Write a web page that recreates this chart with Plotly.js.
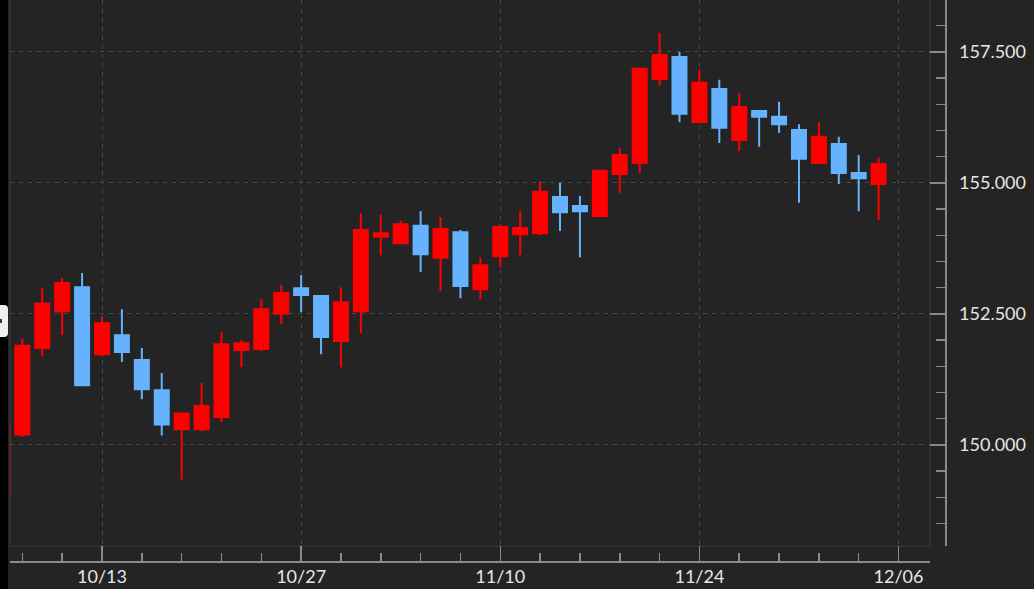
<!DOCTYPE html>
<html>
<head>
<meta charset="utf-8">
<script src="https://cdn.plot.ly/plotly-3.0.1.min.js"></script>
<style>
  html, body { margin:0; padding:0; background:#242424; overflow:hidden; }
  #chart { position:absolute; left:0; top:0; width:1034px; height:589px; }
  #strip { position:absolute; left:0; top:0; width:8px; height:589px; background:#000; z-index:5; }
  #tab { position:absolute; left:0; top:305px; width:8px; height:32px; background:#eeeeee; border-radius:0 4px 4px 0; z-index:6; }
  #tabdot { position:absolute; left:0; top:14px; width:2px; height:4px; background:#333; }
</style>
</head>
<body>
<div id="chart"></div>
<div id="strip"></div>
<div id="tab"><div id="tabdot"></div></div>
<script>
// Trading days (USD/JPY daily candles)
const dates = ['10/6','10/7','10/8','10/9','10/10',
  '10/13','10/14','10/15','10/16','10/17',
  '10/20','10/21','10/22','10/23','10/24',
  '10/27','10/28','10/29','10/30','10/31',
  '11/3','11/4','11/5','11/6','11/7',
  '11/10','11/11','11/12','11/13','11/14',
  '11/17','11/18','11/19','11/20','11/21',
  '11/24','11/25','11/26','11/27','11/28',
  '12/1','12/2','12/3','12/4','12/5'];

const openVals = [149.04,150.20,151.85,152.55,153.01,
  151.73,152.09,151.62,151.04,150.30,
  150.30,150.53,151.81,151.83,152.50,
  152.99,152.84,151.98,152.55,153.97,
  153.85,154.18,153.57,154.06,152.97,
  153.60,154.02,154.04,154.73,154.56,
  154.37,155.17,155.38,156.98,157.40,
  156.16,156.79,155.82,156.37,156.26,
  156.01,155.38,155.74,155.19,154.98];

const highVals = [150.47,152.02,152.99,153.18,153.28,
  152.44,152.59,151.85,151.37,150.62,
  151.18,152.15,152.00,152.78,153.05,
  153.24,152.86,153.01,154.42,154.39,
  154.27,154.46,154.35,154.10,153.58,
  154.21,154.46,155.02,155.00,154.75,
  155.25,155.67,157.20,157.86,157.50,
  157.16,156.97,156.72,156.39,156.55,
  156.12,156.16,155.88,155.53,155.48];

const lowVals = [148.90,150.15,151.69,152.09,151.12,
  151.69,151.58,150.87,150.18,149.34,
  150.26,150.43,151.48,151.79,152.30,
  152.53,151.73,151.48,152.13,153.62,
  153.83,153.30,152.93,152.80,152.78,
  153.39,153.62,154.00,154.08,153.58,
  154.35,154.81,155.19,156.85,156.16,
  156.14,155.76,155.61,155.69,155.95,
  154.62,155.36,154.98,154.46,154.29];

const closeVals = [150.37,151.89,152.70,153.09,151.14,
  152.32,151.77,151.06,150.39,150.60,
  150.74,151.92,151.94,152.59,152.90,
  152.86,152.06,152.72,154.10,154.04,
  154.21,153.64,154.12,153.03,153.43,
  154.16,154.14,154.83,154.44,154.46,
  155.23,155.53,157.18,157.44,156.32,
  156.91,156.05,156.45,156.26,156.12,
  155.46,155.88,155.19,155.09,155.36];

const xTickLabels = ['10/13','10/27','11/10','11/24','12/06'];
const yTickLabelsStep = 2.5;

const xIdx = dates.map((d, i) => i);
const xTickVals = xTickLabels.map(l => {
  const i = dates.indexOf(l);
  return i >= 0 ? i : dates.length;
});

const upColor = '#ff0000';
const downColor = '#66b2ff';
const axisColor = '#8a8a8a';
const gridColor = '#4a4a4a';
const borderColor = '#3a3a3a';
const labelFont = {family:'Lato, "Open Sans", sans-serif', size:18, color:'#e6e6e6'};

const trace = {
  type:'candlestick',
  x: xIdx,
  open: openVals, high: highVals, low: lowVals, close: closeVals,
  increasing: {line:{color:upColor, width:2}, fillcolor:upColor},
  decreasing: {line:{color:downColor, width:2}, fillcolor:downColor},
  whiskerwidth: 0,
  hoverinfo: 'skip',
  showlegend: false
};

const layout = {
  width:1034, height:589,
  paper_bgcolor:'#242424', plot_bgcolor:'#242424',
  margin:{l:10, r:89, t:0, b:28, pad:0},
  showlegend:false,
  boxgap:0.297, boxgroupgap:0,
  hovermode:false,
  xaxis:{
    type:'linear', domain:[0, 920/935], range:[0.38, 46.58],
    anchor:'free', position:0,
    tickmode:'array', tickvals:xTickVals, ticktext:xTickLabels,
    ticks:'inside', ticklen:15, tickwidth:1.5, tickcolor:axisColor,
    showline:true, linecolor:axisColor, linewidth:1.5,
    showgrid:true, gridcolor:gridColor, gridwidth:1, griddash:'4px,5px',
    zeroline:false, rangeslider:{visible:false},
    minor:{tickmode:'linear', tick0:1, dtick:2, ticks:'inside', ticklen:8, tickwidth:1.5, tickcolor:axisColor, showgrid:false},
    tickfont:labelFont, ticklabelstandoff:-1, fixedrange:true
  },
  yaxis:{
    type:'linear', domain:[15/561, 1], range:[148.07, 158.49],
    side:'right', anchor:'free', position:1,
    tickmode:'linear', tick0:150, dtick:yTickLabelsStep, tickformat:'.3f',
    ticks:'inside', ticklen:15, tickwidth:1.5, tickcolor:axisColor,
    showline:true, linecolor:axisColor, linewidth:1.5,
    showgrid:true, gridcolor:gridColor, gridwidth:1, griddash:'4px,5px',
    zeroline:false,
    minor:{tickmode:'linear', tick0:150, dtick:0.5, ticks:'inside', ticklen:9, tickwidth:1.5, tickcolor:axisColor, showgrid:false},
    tickfont:labelFont, ticklabelstandoff:9, fixedrange:true
  },
  shapes:[
    {type:'line', xref:'x domain', yref:'y domain', x0:0, x1:0, y0:0, y1:1, line:{color:borderColor, width:1}, layer:'below'},
    {type:'line', xref:'x domain', yref:'y domain', x0:1, x1:1, y0:0, y1:1, line:{color:borderColor, width:1}, layer:'below'},
    {type:'line', xref:'x domain', yref:'y domain', x0:0, x1:1, y0:0, y1:0, line:{color:borderColor, width:1}, layer:'below'}
  ]
};

Plotly.newPlot('chart', [trace], layout, {displayModeBar:false, staticPlot:true});
</script>
</body>
</html>
